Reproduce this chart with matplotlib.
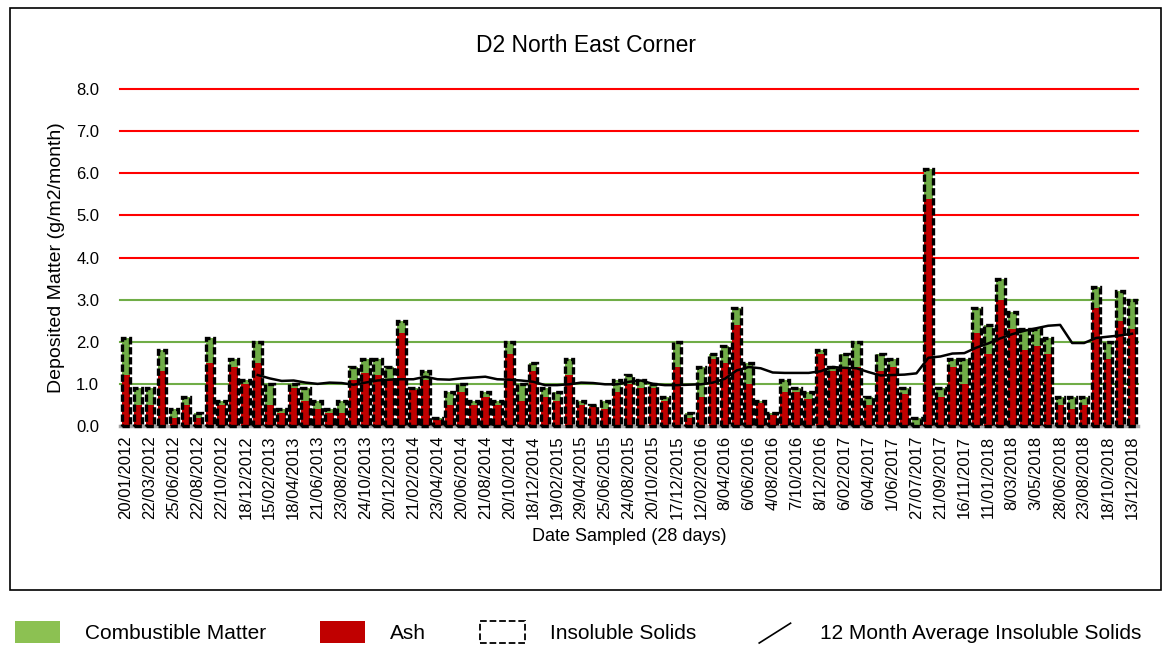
import numpy as np
import matplotlib
matplotlib.use("Agg")
import matplotlib.pyplot as plt
from matplotlib.patches import Patch, Rectangle
from matplotlib.lines import Line2D
from matplotlib.legend_handler import HandlerBase

plt.rcParams['font.family'] = ['Liberation Sans', 'DejaVu Sans']

# --- dados (g/m2/month) ---
insoluble = [2.1, 0.9, 0.9, 1.8, 0.4, 0.7, 0.3, 2.1, 0.6, 1.6,
             1.1, 2.0, 1.0, 0.4, 1.0, 0.9, 0.6, 0.4, 0.6, 1.4,
             1.6, 1.6, 1.4, 2.5, 0.9, 1.3, 0.2, 0.8, 1.0, 0.6,
             0.8, 0.6, 2.0, 1.0, 1.5, 0.9, 0.8, 1.6, 0.6, 0.5,
             0.6, 1.1, 1.2, 1.1, 1.0, 0.7, 2.0, 0.3, 1.4, 1.7,
             1.9, 2.8, 1.5, 0.6, 0.3, 1.1, 0.9, 0.8, 1.8, 1.4,
             1.7, 2.0, 0.7, 1.7, 1.6, 0.9, 0.2, 6.1, 0.9, 1.6,
             1.6, 2.8, 2.4, 3.5, 2.7, 2.3, 2.3, 2.1, 0.7, 0.7,
             0.7, 3.3, 2.0, 3.2, 3.0]

ash = [1.2, 0.5, 0.5, 1.3, 0.2, 0.5, 0.2, 1.5, 0.5, 1.4,
       1.0, 1.5, 0.5, 0.3, 0.9, 0.6, 0.4, 0.3, 0.3, 1.1,
       1.25, 1.2, 1.1, 2.2, 0.85, 1.1, 0.15, 0.5, 0.8, 0.5,
       0.7, 0.5, 1.7, 0.6, 1.3, 0.7, 0.6, 1.2, 0.5, 0.45,
       0.4, 0.8, 1.0, 0.9, 0.9, 0.6, 1.4, 0.2, 0.7, 1.6,
       1.5, 2.4, 1.0, 0.55, 0.25, 0.8, 0.8, 0.65, 1.7, 1.3,
       1.35, 1.4, 0.5, 1.3, 1.4, 0.75, 0.02, 5.4, 0.7, 1.4,
       1.0, 2.2, 1.7, 3.0, 2.3, 1.8, 1.9, 1.7, 0.5, 0.4,
       0.5, 2.8, 1.6, 2.5, 2.3]

# media de 12 meses so comeca na 12a amostra
twelve_month_avg = [np.nan] * 11 + [
    1.21, 1.13, 1.07, 1.08, 1.03, 1.0, 1.03, 1.02, 0.98, 1.03,
    1.08, 1.1, 1.11, 1.11, 1.17, 1.11, 1.1, 1.13, 1.15, 1.17,
    1.11, 1.1, 1.08, 1.05, 0.97, 0.97, 0.99, 1.03, 1.02, 0.99,
    0.99, 1.05, 1.08, 1.0, 0.97, 0.97, 0.98, 0.99, 1.03, 1.12,
    1.32, 1.4, 1.37, 1.27, 1.26, 1.26, 1.26, 1.3, 1.4, 1.38,
    1.37, 1.28, 1.2, 1.21, 1.22, 1.25, 1.62, 1.65, 1.72, 1.73,
    1.86, 1.96, 2.08, 2.18, 2.26, 2.32, 2.38, 2.4, 1.97, 1.97,
    2.09, 2.12, 2.15, 2.19]

# rotulos do eixo X (um a cada duas amostras)
tick_labels = ["20/01/2012", "22/03/2012", "25/06/2012", "22/08/2012", "22/10/2012",
               "18/12/2012", "15/02/2013", "18/04/2013", "21/06/2013", "23/08/2013",
               "24/10/2013", "20/12/2013", "21/02/2014", "23/04/2014", "20/06/2014",
               "21/08/2014", "20/10/2014", "18/12/2014", "19/02/2015", "29/04/2015",
               "25/06/2015", "24/08/2015", "20/10/2015", "17/12/2015", "12/02/2016",
               "8/04/2016", "6/06/2016", "4/08/2016", "7/10/2016", "8/12/2016",
               "6/02/2017", "6/04/2017", "1/06/2017", "27/07/2017", "21/09/2017",
               "16/11/2017", "11/01/2018", "8/03/2018", "3/05/2018", "28/06/2018",
               "23/08/2018", "18/10/2018", "13/12/2018"]

y_ticks = [0.0, 1.0, 2.0, 3.0, 4.0, 5.0, 6.0, 7.0, 8.0]

COR_VERDE = '#70AD47'
COR_VERMELHO = '#C00000'


class HandlerDiagonal(HandlerBase):
    def create_artists(self, legend, orig_handle, xdescent, ydescent,
                       width, height, fontsize, trans):
        linha = Line2D([width * 0.2 - xdescent, width * 0.9 - xdescent],
                       [-ydescent, height * 0.9 - ydescent],
                       color='black', linewidth=1.2, transform=trans)
        return [linha]


x = np.arange(len(insoluble))
insoluble_arr = np.array(insoluble)
ash_arr = np.array(ash)
combustible = insoluble_arr - ash_arr

fig = plt.figure(figsize=(11.63, 6.47), dpi=100)
ax = fig.add_axes([120 / 1163, 1 - 426 / 647, 1018 / 1163, 337 / 647])

# linhas de grade coloridas
for v in y_ticks[1:]:
    cor = COR_VERDE if v <= 3.0 else '#FF0000'
    ax.axhline(v, color=cor, linewidth=1.5, zorder=1, clip_on=False)
ax.axhline(0, color='#A6A6A6', linewidth=2.5, zorder=1, clip_on=False)

largura = 0.72
ax.bar(x, ash_arr, width=largura, color=COR_VERMELHO, zorder=2)
ax.bar(x, combustible, bottom=ash_arr, width=largura, color=COR_VERDE, zorder=2)
ax.bar(x, insoluble_arr, width=largura, fill=False, edgecolor='black',
       linestyle=(0, (2.2, 0.8)), linewidth=2.4, zorder=3, clip_on=False)
ax.plot(x, twelve_month_avg, color='black', linewidth=1.8, zorder=4)

ax.set_xlim(-0.5, len(insoluble) - 0.5)
ax.set_ylim(0, 8.0)
ax.set_yticks(y_ticks)
ax.set_yticklabels([f"{v:.1f}" for v in y_ticks], fontsize=12)
ax.set_xticks(x[::2])
ax.set_xticklabels(tick_labels, rotation=90, fontsize=12)
ax.tick_params(axis='x', length=0, pad=7)
ax.tick_params(axis='y', length=0, pad=15)
for s in ax.spines.values():
    s.set_visible(False)

ax.set_ylabel('Deposited Matter (g/m2/month)', fontsize=14, labelpad=8)
ax.set_xlabel('Date Sampled (28 days)', fontsize=13, labelpad=6)
fig.text(586 / 1163, 1 - 45 / 647, 'D2 North East Corner', fontsize=16.5,
         ha='center', va='center')

# moldura do grafico
fig.add_artist(Rectangle((10 / 1163, 1 - 590 / 647), 1151 / 1163, 582 / 647,
                         transform=fig.transFigure, fill=False,
                         edgecolor='black', linewidth=1.2))

handles = [Patch(facecolor='#8CC152', edgecolor='none'),
           Patch(facecolor=COR_VERMELHO, edgecolor='none'),
           Patch(facecolor='none', edgecolor='black', linestyle='--', linewidth=1.3),
           Line2D([], [], color='black')]
labels = ['Combustible Matter', 'Ash', 'Insoluble Solids',
          '12 Month Average Insoluble Solids']
fig.legend(handles, labels, loc='center left', bbox_to_anchor=(15 / 1163, 1 - 632 / 647),
           ncol=4, frameon=False, borderpad=0, borderaxespad=0,
           handlelength=2.15, handleheight=1.25, handletextpad=1.2, columnspacing=2.6,
           handler_map={Line2D: HandlerDiagonal()},
           prop={'family': ['Liberation Sans'], 'size': 15})

fig.savefig('out.png', dpi=100)
